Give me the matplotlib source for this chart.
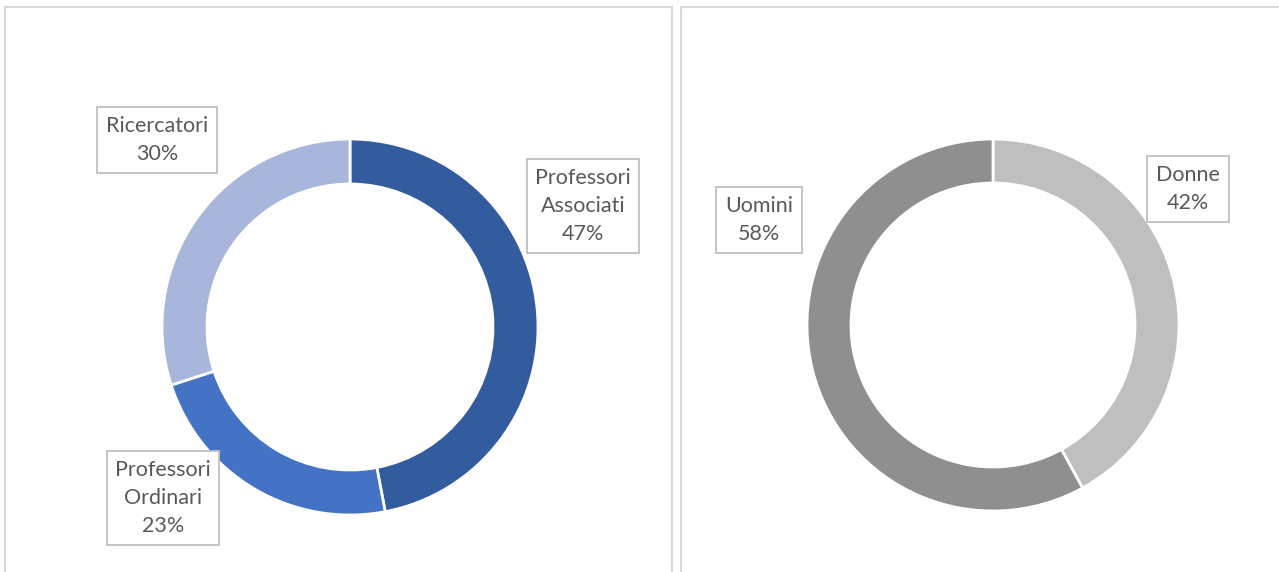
import matplotlib.pyplot as plt
from matplotlib.patches import Rectangle

# staff by role
ruoli = ['Professori\nAssociati', 'Professori\nOrdinari', 'Ricercatori']
ruoli_pct = [47, 23, 30]
ruoli_colori = ['#335C9F', '#4472C4', '#A9B6DB']

# staff by gender
genere = ['Donne', 'Uomini']
genere_pct = [42, 58]
genere_colori = ['#BFBFBF', '#8F8F8F']

W, H = 1279, 572
fig = plt.figure(figsize=(W / 100, H / 100), dpi=100)
ax = fig.add_axes([0, 0, 1, 1])
ax.set_xlim(0, W)
ax.set_ylim(0, H)
ax.set_aspect('equal')
ax.axis('off')

# panel frames
for x0, x1 in [(5, 672), (681, 1290)]:
    ax.add_patch(Rectangle((x0, -10), x1 - x0, H - 7 + 10, fill=False,
                           edgecolor='#D9D9D9', linewidth=1.5))

testo = dict(fontsize=15.5, color='#595959', ha='center', va='center',
             family='Lato', linespacing=1.5,
             bbox=dict(boxstyle='square,pad=0.4', facecolor='white',
                       edgecolor='#BFBFBF', linewidth=1.3))

# left donut
ax.pie(ruoli_pct, colors=ruoli_colori, startangle=90, counterclock=False,
       center=(350, H - 327), radius=188, frame=True,
       wedgeprops=dict(width=45, edgecolor='white', linewidth=2))
pos_ruoli = [(583, H - 206), (163, H - 498), (157, H - 140)]
for lab, v, (x, y) in zip(ruoli, ruoli_pct, pos_ruoli):
    ax.text(x, y, f'{lab}\n{v}%', **testo)

# right donut
ax.pie(genere_pct, colors=genere_colori, startangle=90, counterclock=False,
       center=(993, H - 325), radius=186, frame=True,
       wedgeprops=dict(width=44, edgecolor='white', linewidth=2))
pos_genere = [(1188, H - 189), (759, H - 220)]
for lab, v, (x, y) in zip(genere, genere_pct, pos_genere):
    ax.text(x, y, f'{lab}\n{v}%', **testo)

ax.set_xlim(0, W)
ax.set_ylim(0, H)
ax.axis('off')

fig.savefig('out.png', dpi=100)
